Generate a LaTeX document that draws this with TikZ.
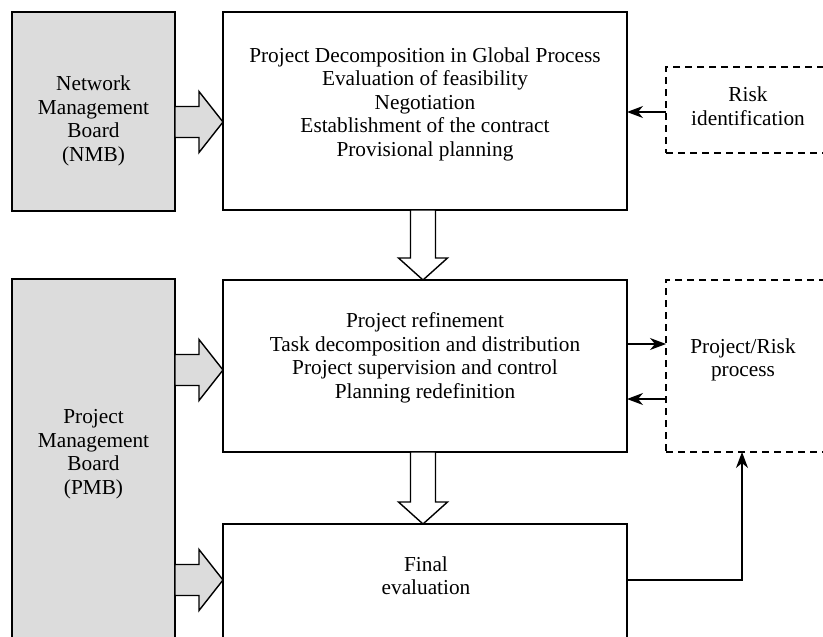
\documentclass[tikz,border=0pt]{standalone}
\usepackage{fontspec}
\setmainfont{Liberation Serif}
\usetikzlibrary{calc,arrows.meta}
\definecolor{boardgray}{HTML}{DCDCDC}

% block arrows: #1 start, #2 tip
\newcommand{\fatright}[2]{%
	\filldraw[fat,fill=boardgray] ($(#1)+(0,-15.5)$) -- ($(#2)+(-24,-15.5)$) -- ($(#2)+(-24,-30.5)$) -- (#2)
		-- ($(#2)+(-24,30.5)$) -- ($(#2)+(-24,15.5)$) -- ($(#1)+(0,15.5)$) -- cycle;}
\newcommand{\fatdown}[2]{%
	\filldraw[fat,fill=white] ($(#1)+(-12.5,0)$) -- ($(#2)+(-12.5,-22)$) -- ($(#2)+(-24.5,-22)$) -- (#2)
		-- ($(#2)+(24.5,-22)$) -- ($(#2)+(12.5,-22)$) -- ($(#1)+(12.5,0)$) -- cycle;}

\begin{document}
\begin{tikzpicture}[x=1pt,y=-1pt,
		box/.style={draw,line width=1.6pt,inner sep=0pt,outer sep=0pt},
		board/.style={box,fill=boardgray},
		dbox/.style={draw,line width=1.6pt,dash pattern=on 7pt off 5pt,inner sep=0pt,outer sep=0pt},
		fat/.style={line width=1.4pt,line join=miter},
		link/.style={line width=1.3pt,-{Stealth[length=16pt,width=12pt,inset=5pt]}},
		lbl/.style={align=center,font=\fontsize{21.3}{23.5}\selectfont}]
	\clip (0,0) rectangle (823,637);
	% boxes
	\node[board,minimum width=163pt,minimum height=199pt] (nmb) at (93.5,111.5) {};
	\node[box,minimum width=404pt,minimum height=198pt] (top) at (425,111) {};
	\node[dbox,minimum width=234pt,minimum height=86pt] (risk) at (783,110) {};
	\node[board,minimum width=163pt,minimum height=421pt] (pmb) at (93.5,489.5) {};
	\node[box,minimum width=404pt,minimum height=172pt] (mid) at (425,366) {};
	\node[dbox,minimum width=234pt,minimum height=172pt] (projrisk) at (783,366) {};
	\node[box,minimum width=404pt,minimum height=176pt] (final) at (425,612) {};
	% texts
	\node[lbl] (nmbtxt) at (93.5,121) {Network\\Management\\Board\\(NMB)};
	\node[lbl] (pmbtxt) at (93.5,454) {Project\\Management\\Board\\(PMB)};
	\node[lbl] (toptxt) at (425,104) {Project Decomposition in Global Process\\Evaluation of feasibility\\Negotiation\\Establishment of the contract\\Provisional planning};
	\node[lbl] (midtxt) at (425,358) {Project refinement\\Task decomposition and distribution\\Project supervision and control\\Planning redefinition};
	\node[lbl] (finaltxt) at (426,575.5) {Final\\evaluation};
	\node[lbl] (risktxt) at (748,106) {Risk\\identification};
	\node[lbl] (prtxt) at (743,360) {Project/Risk\\process};
	% block arrows
	\coordinate (a1s) at ([yshift=-10.5pt]nmb.east);
	\coordinate (a1e) at (a1s -| top.west);
	\coordinate (a2s) at ([yshift=119.5pt]pmb.east);
	\coordinate (a2e) at (a2s -| mid.west);
	\coordinate (a3s) at ([yshift=-90.5pt]pmb.east);
	\coordinate (a3e) at (a3s -| final.west);
	\fatright{a1s}{a1e}
	\fatright{a2s}{a2e}
	\fatright{a3s}{a3e}
	\coordinate (d1s) at ([xshift=-2pt]top.south);
	\coordinate (d1e) at (d1s |- mid.north);
	\coordinate (d2s) at ([xshift=-2pt]mid.south);
	\coordinate (d2e) at (d2s |- final.north);
	\fatdown{d1s}{d1e}
	\fatdown{d2s}{d2e}
	% risk links
	\draw[link] ([yshift=-2pt]risk.west) -- ([yshift=-2pt]risk.west -| top.east);
	\draw[link] ([yshift=22pt]mid.east) -- ([yshift=22pt]mid.east -| projrisk.west);
	\draw[link] ([yshift=-33pt]projrisk.west) -- ([yshift=-33pt]projrisk.west -| mid.east);
	\coordinate (prin) at ([xshift=-41pt]projrisk.south);
	\draw[link] ([yshift=32pt]final.east) -| (prin);
\end{tikzpicture}
\end{document}
